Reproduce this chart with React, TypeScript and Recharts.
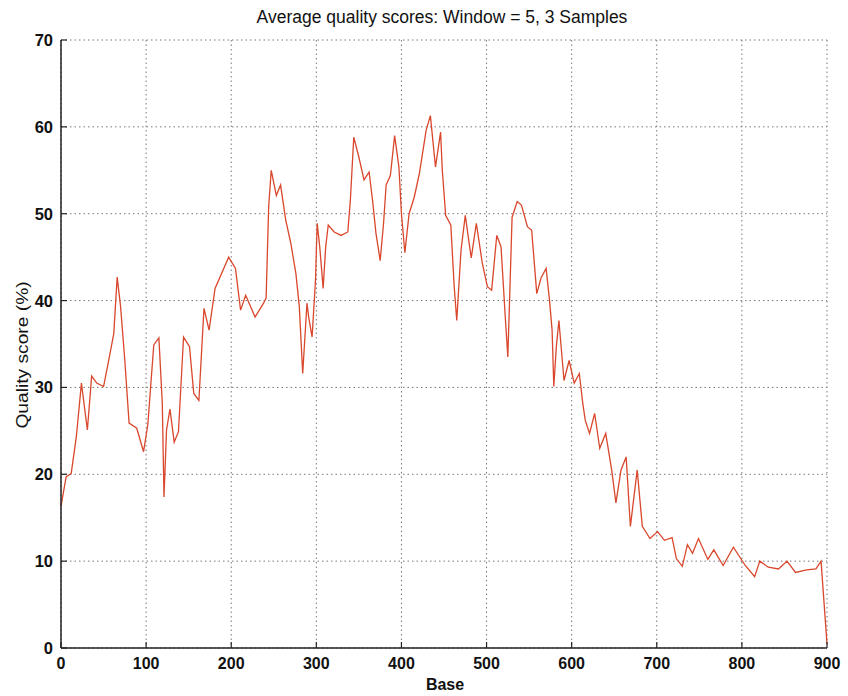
import { LineChart, Line, XAxis, YAxis, CartesianGrid } from "recharts";

// base position along the read, and the windowed quality score at that base
const bases = [
  0, 6, 12, 18, 24, 31, 36, 42, 50, 56, 62, 66, 70, 75, 80, 89, 97, 102, 109, 115,
  119, 121, 124, 128, 133, 138, 144, 151, 156, 162, 168, 174, 181, 197, 205, 211, 217, 228, 238, 241,
  244, 247, 253, 258, 264, 270, 276, 280, 284, 289, 291, 295, 299, 301, 304, 308, 311, 314, 321, 329,
  337, 340, 344, 350, 356, 362, 366, 370, 375, 379, 382, 387, 392, 397, 400, 404, 409, 415, 421, 429,
  434, 440, 446, 448, 452, 458, 462, 465, 470, 475, 482, 488, 495, 501, 506, 512, 517, 522, 525, 530,
  536, 541, 548, 553, 559, 564, 570, 574, 577, 579, 582, 585, 591, 597, 603, 609, 613, 616, 621, 627,
  633, 640, 647, 652, 658, 664, 669, 677, 683, 692, 701, 709, 718, 723, 730, 736, 742, 749, 760, 767,
  778, 790, 804, 815, 821, 831, 843, 853, 863, 876, 887, 893, 900,
];
const scores = [
  16.3, 19.7, 20.1, 24.3, 30.5, 25.1, 31.3, 30.5, 30.1, 33.1, 36.2, 42.7, 39.3, 33.1, 25.9, 25.3, 22.6, 25.7, 34.9, 35.7,
  28.2, 17.4, 25.1, 27.5, 23.7, 24.9, 35.8, 34.7, 29.3, 28.5, 39.1, 36.6, 41.4, 45.0, 43.7, 38.9, 40.6, 38.1, 39.7, 40.3,
  50.8, 55.0, 52.1, 53.3, 49.3, 46.6, 43.1, 39.3, 31.6, 39.7, 38.1, 35.8, 42.3, 48.9, 46.2, 41.4, 46.2, 48.7, 47.9, 47.5,
  47.9, 51.6, 58.8, 56.5, 53.9, 54.8, 51.6, 47.8, 44.6, 48.9, 53.3, 54.4, 59.0, 55.4, 50.0, 45.5, 50.0, 51.9, 54.6, 59.6,
  61.3, 55.4, 59.4, 55.0, 49.8, 48.7, 41.6, 37.7, 45.8, 49.8, 44.9, 48.9, 44.3, 41.6, 41.2, 47.5, 46.2, 38.1, 33.5, 49.6,
  51.4, 51.0, 48.5, 48.1, 40.8, 42.6, 43.7, 40.0, 36.6, 30.1, 34.7, 37.7, 30.8, 33.1, 30.5, 31.6, 28.2, 26.2, 24.7, 27.0,
  23.0, 24.7, 20.5, 16.7, 20.5, 22.0, 14.0, 20.5, 14.0, 12.6, 13.4, 12.4, 12.7, 10.3, 9.4, 11.9, 10.9, 12.6, 10.2, 11.3,
  9.5, 11.6, 9.5, 8.2, 10.0, 9.3, 9.1, 10.0, 8.7, 9.0, 9.1, 10.0, 0.5,
];

const xTicks = [0, 100, 200, 300, 400, 500, 600, 700, 800, 900];
const yTicks = [0, 10, 20, 30, 40, 50, 60, 70];

const data = bases.map((base, i) => ({ base, score: scores[i] }));

const FONT = '"Liberation Sans", Arial, Helvetica, sans-serif';
const TICK_OFFSET = 8; // tickSize + tickMargin
const TICK_LEN = 6;

// tick label plus a short inward tick mark
const XTick = ({ x, y, payload }: any) => (
  <g>
    <line x1={x} x2={x} y1={y - TICK_OFFSET} y2={y - TICK_OFFSET - TICK_LEN} stroke="#222" strokeWidth={1.2} />
    <text x={x} y={y} dy="0.8em" textAnchor="middle" fontFamily={FONT} fontWeight="bold" fontSize={16} fill="#111">
      {payload.value}
    </text>
  </g>
);

const YTick = ({ x, y, payload }: any) => (
  <g>
    <line x1={x + TICK_OFFSET} x2={x + TICK_OFFSET + TICK_LEN} y1={y} y2={y} stroke="#222" strokeWidth={1.2} />
    <text x={x} y={y} dy="0.36em" textAnchor="end" fontFamily={FONT} fontWeight="bold" fontSize={16.5} fill="#111">
      {payload.value}
    </text>
  </g>
);

export default function App() {
  return (
    <div style={{ position: "relative", width: 848, height: 696, background: "#fff", fontFamily: FONT }}>
      <style>{"body{margin:0}"}</style>
      <div
        style={{
          position: "absolute",
          top: 7,
          left: 0,
          width: 884,
          textAlign: "center",
          fontSize: 17.5,
          color: "#111",
          whiteSpace: "nowrap",
        }}
      >
        Average quality scores: Window = 5, 3 Samples
      </div>
      <div
        style={{
          position: "absolute",
          left: 23,
          top: 355,
          fontSize: 16,
          color: "#111",
          whiteSpace: "nowrap",
          transform: "translate(-50%, -50%) rotate(-90deg) scaleX(1.2)",
        }}
      >
        Quality score (%)
      </div>
      <div
        style={{
          position: "absolute",
          left: 0,
          width: 890,
          top: 676,
          textAlign: "center",
          fontSize: 16,
          fontWeight: "bold",
          color: "#111",
        }}
      >
        Base
      </div>
      <LineChart width={848} height={696} data={data} margin={{ top: 40, right: 21, left: 0, bottom: 0 }}>
        <CartesianGrid stroke="#777" strokeDasharray="1.5 3" strokeWidth={1} />
        <XAxis
          dataKey="base"
          type="number"
          domain={[0, 900]}
          ticks={xTicks}
          height={48}
          tickLine={false}
          axisLine={{ stroke: "#222", strokeWidth: 1.5 }}
          tick={<XTick />}
          interval={0}
        />
        <YAxis
          type="number"
          domain={[0, 70]}
          ticks={yTicks}
          width={61}
          tickLine={false}
          axisLine={{ stroke: "#222", strokeWidth: 1.5 }}
          tick={<YTick />}
          interval={0}
        />
        <Line
          type="linear"
          dataKey="score"
          stroke="#d9472c"
          strokeWidth={1.3}
          dot={false}
          isAnimationActive={false}
        />
      </LineChart>
    </div>
  );
}
